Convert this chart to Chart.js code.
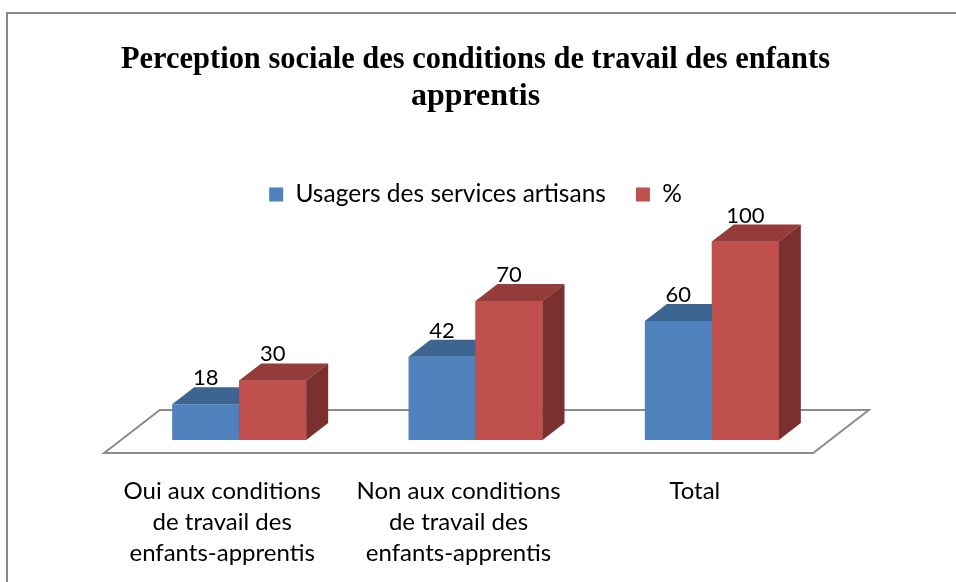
<!DOCTYPE html>
<html>
<head>
<meta charset="utf-8">
<script src="https://cdn.jsdelivr.net/npm/chart.js@4.4.1/dist/chart.umd.min.js"></script>
<style>
  html, body { margin: 0; padding: 0; background: #ffffff; }
  #wrap { width: 956px; height: 582px; position: relative; }
</style>
</head>
<body>
<div id="wrap"><canvas id="c" width="956" height="582"></canvas></div>
<script>
// ---- Data ----
const titleLines = ["Perception sociale des conditions de travail des enfants", "apprentis"];
const categories = [
  ["Oui aux conditions", "de travail des", "enfants-apprentis"],
  ["Non aux conditions", "de travail des", "enfants-apprentis"],
  ["Total"]
];
const seriesNames = ["Usagers des services artisans", "%"];
const usagers = [18, 42, 60];
const pourcent = [30, 70, 100];

// ---- Style ----
const DX = 22, DY = 17;           // bar depth offsets
const FLOOR_FRONT = 13, FLOOR_BACK = 30;
const colors = {
  blue:  { front: '#4F81BD', top: '#3C6591', side: '#2F5077' },
  red:   { front: '#C0504D', top: '#943C3A', side: '#7A302E' }
};
const faceColors = [colors.blue, colors.red];
const bodyFont = "Lato, 'Open Sans', sans-serif";

function drawFaces(ctx, meta, c) {
  meta.data.forEach(el => {
    const p = el.getProps(['x', 'y', 'base', 'width'], true);
    const l = p.x - p.width / 2, r = p.x + p.width / 2;
    ctx.beginPath();
    ctx.moveTo(l, p.y);
    ctx.lineTo(l + DX, p.y - DY);
    ctx.lineTo(r + DX, p.y - DY);
    ctx.lineTo(r, p.y);
    ctx.closePath();
    ctx.fillStyle = c.top;
    ctx.fill();
    ctx.beginPath();
    ctx.moveTo(r, p.y);
    ctx.lineTo(r + DX, p.y - DY);
    ctx.lineTo(r + DX, p.base - DY);
    ctx.lineTo(r, p.base);
    ctx.closePath();
    ctx.fillStyle = c.side;
    ctx.fill();
  });
}

const threeD = {
  id: 'threeD',
  beforeDraw(chart) {
    const ctx = chart.ctx;
    ctx.save();
    ctx.fillStyle = '#ffffff';
    ctx.fillRect(0, 0, chart.width, chart.height);
    ctx.strokeStyle = '#888888';
    ctx.lineWidth = 2;
    ctx.strokeRect(7, 13, 2000, 2000);
    ctx.restore();
  },
  beforeDatasetsDraw(chart) {
    const ctx = chart.ctx;
    const a = chart.chartArea;
    const y0 = chart.scales.y.getPixelForValue(0);
    const k = DX / DY;
    const fy = y0 + FLOOR_FRONT, by = y0 - FLOOR_BACK;
    ctx.save();
    ctx.beginPath();
    ctx.moveTo(a.left - FLOOR_FRONT * k, fy);
    ctx.lineTo(a.left + FLOOR_BACK * k, by);
    ctx.lineTo(a.right + FLOOR_BACK * k, by);
    ctx.lineTo(a.right - FLOOR_FRONT * k, fy);
    ctx.closePath();
    ctx.fillStyle = '#ffffff';
    ctx.fill();
    ctx.strokeStyle = '#8c8c8c';
    ctx.lineWidth = 2;
    ctx.stroke();
    ctx.restore();
  },
  afterDatasetsDraw(chart) {
    const ctx = chart.ctx;
    ctx.save();
    // series 0 depth faces, then series 1 front re-drawn on top, then its faces
    drawFaces(ctx, chart.getDatasetMeta(0), faceColors[0]);
    const m1 = chart.getDatasetMeta(1);
    m1.data.forEach(el => el.draw(ctx, chart.chartArea));
    drawFaces(ctx, m1, faceColors[1]);
    // value labels
    ctx.font = "22px " + bodyFont;
    ctx.fillStyle = '#000000';
    ctx.textAlign = 'center';
    ctx.textBaseline = 'alphabetic';
    chart.data.datasets.forEach((ds, i) => {
      chart.getDatasetMeta(i).data.forEach((el, j) => {
        const p = el.getProps(['x', 'y'], true);
        ctx.fillText(String(ds.data[j]), p.x, p.y - DY - 2);
      });
    });
    ctx.restore();
  }
};

new Chart(document.getElementById('c'), {
  type: 'bar',
  data: {
    labels: categories,
    datasets: [
      { label: seriesNames[0], data: usagers, backgroundColor: colors.blue.front, borderWidth: 0 },
      { label: seriesNames[1], data: pourcent, backgroundColor: colors.red.front, borderWidth: 0 }
    ]
  },
  options: {
    responsive: false,
    animation: false,
    devicePixelRatio: 1,
    layout: { padding: { left: 121, right: 126, top: 0, bottom: 0 } },
    datasets: { bar: { barPercentage: 1, categoryPercentage: 0.567 } },
    plugins: {
      title: {
        display: true,
        text: titleLines,
        font: { family: "'Liberation Serif', 'Times New Roman', serif", size: 32, weight: 'bold', lineHeight: 1.16 },
        color: '#000000',
        padding: { top: 41, bottom: 37 }
      },
      legend: {
        display: true,
        position: 'top',
        labels: {
          font: { family: bodyFont, size: 24.5 },
          color: '#000000',
          boxWidth: 14,
          boxHeight: 14,
          padding: 30
        }
      },
      tooltip: { enabled: false }
    },
    scales: {
      x: {
        grid: { display: false },
        border: { display: false },
        afterFit(scale) { scale.height = 142; },
        ticks: {
          color: '#000000',
          font: { family: bodyFont, size: 24, lineHeight: 1.29 },
          padding: 28,
          labelOffset: -17,
          maxRotation: 0,
          autoSkip: false
        }
      },
      y: {
        display: false,
        min: 0,
        max: 112.5
      }
    }
  },
  plugins: [threeD]
});
</script>
</body>
</html>
